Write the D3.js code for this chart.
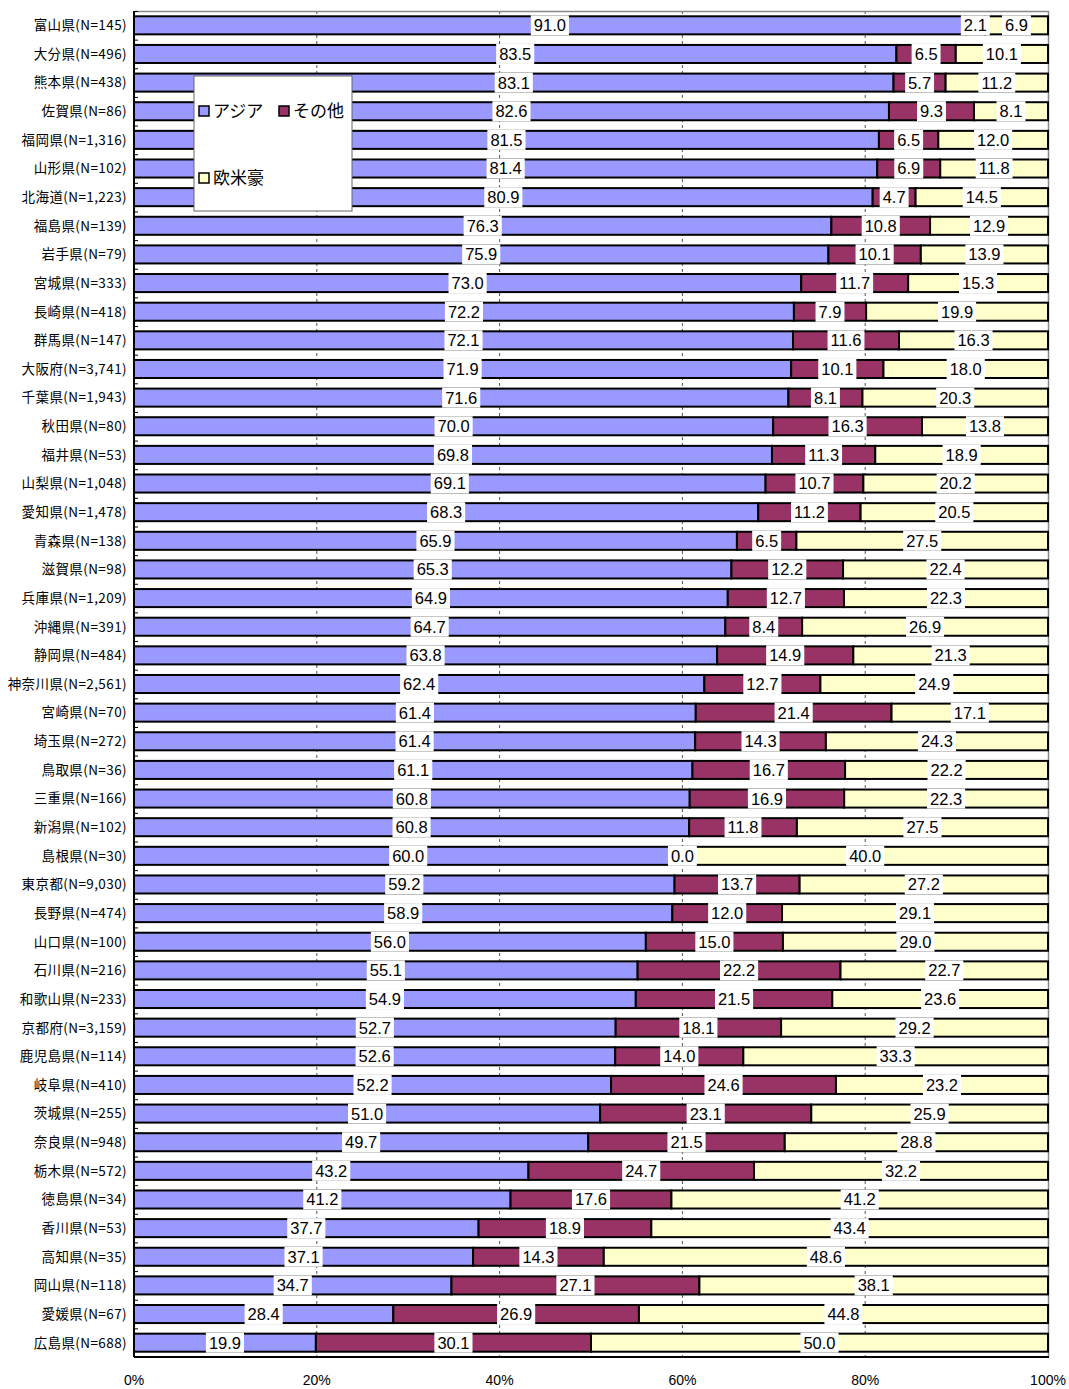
<!DOCTYPE html>
<html>
<head>
<meta charset="utf-8">
<script src="https://cdn.jsdelivr.net/npm/d3@7"></script>
<style>
  body { margin: 0; background: #fff; }
  svg { display: block; }
</style>
</head>
<body>
<svg id="chart" width="1069" height="1389"></svg>
<script>
// prefecture labels, top to bottom
const prefectures = [
  "富山県(N=145)", "大分県(N=496)", "熊本県(N=438)", "佐賀県(N=86)", "福岡県(N=1,316)",
  "山形県(N=102)", "北海道(N=1,223)", "福島県(N=139)", "岩手県(N=79)", "宮城県(N=333)",
  "長崎県(N=418)", "群馬県(N=147)", "大阪府(N=3,741)", "千葉県(N=1,943)", "秋田県(N=80)",
  "福井県(N=53)", "山梨県(N=1,048)", "愛知県(N=1,478)", "青森県(N=138)", "滋賀県(N=98)",
  "兵庫県(N=1,209)", "沖縄県(N=391)", "静岡県(N=484)", "神奈川県(N=2,561)", "宮崎県(N=70)",
  "埼玉県(N=272)", "鳥取県(N=36)", "三重県(N=166)", "新潟県(N=102)", "島根県(N=30)",
  "東京都(N=9,030)", "長野県(N=474)", "山口県(N=100)", "石川県(N=216)", "和歌山県(N=233)",
  "京都府(N=3,159)", "鹿児島県(N=114)", "岐阜県(N=410)", "茨城県(N=255)", "奈良県(N=948)",
  "栃木県(N=572)", "徳島県(N=34)", "香川県(N=53)", "高知県(N=35)", "岡山県(N=118)",
  "愛媛県(N=67)", "広島県(N=688)"
];

const asia = [
  91.0, 83.5, 83.1, 82.6, 81.5, 81.4, 80.9, 76.3, 75.9, 73.0,
  72.2, 72.1, 71.9, 71.6, 70.0, 69.8, 69.1, 68.3, 65.9, 65.3,
  64.9, 64.7, 63.8, 62.4, 61.4, 61.4, 61.1, 60.8, 60.8, 60.0,
  59.2, 58.9, 56.0, 55.1, 54.9, 52.7, 52.6, 52.2, 51.0, 49.7,
  43.2, 41.2, 37.7, 37.1, 34.7, 28.4, 19.9
];
const other = [
  2.1, 6.5, 5.7, 9.3, 6.5, 6.9, 4.7, 10.8, 10.1, 11.7,
  7.9, 11.6, 10.1, 8.1, 16.3, 11.3, 10.7, 11.2, 6.5, 12.2,
  12.7, 8.4, 14.9, 12.7, 21.4, 14.3, 16.7, 16.9, 11.8, 0.0,
  13.7, 12.0, 15.0, 22.2, 21.5, 18.1, 14.0, 24.6, 23.1, 21.5,
  24.7, 17.6, 18.9, 14.3, 27.1, 26.9, 30.1
];
const western = [
  6.9, 10.1, 11.2, 8.1, 12.0, 11.8, 14.5, 12.9, 13.9, 15.3,
  19.9, 16.3, 18.0, 20.3, 13.8, 18.9, 20.2, 20.5, 27.5, 22.4,
  22.3, 26.9, 21.3, 24.9, 17.1, 24.3, 22.2, 22.3, 27.5, 40.0,
  27.2, 29.1, 29.0, 22.7, 23.6, 29.2, 33.3, 23.2, 25.9, 28.8,
  32.2, 41.2, 43.4, 48.6, 38.1, 44.8, 50.0
];

const seriesNames = ["アジア", "その他", "欧米豪"];
const seriesColors = ["#9999ff", "#993366", "#ffffcc"];
const xTicks = [0, 0.2, 0.4, 0.6, 0.8, 1];

const margin = { left: 134, right: 21, top: 11, bottom: 32 };
const width = 1069, height = 1389;

const svg = d3.select("#chart");

const x = d3.scaleLinear().domain([0, 1]).range([margin.left, width - margin.right]);
const y = d3.scaleBand()
  .domain(prefectures)
  .range([margin.top, height - margin.bottom])
  .paddingInner(0.37)
  .paddingOuter(0.185);

const rows = prefectures.map((name, i) => ({ name, values: [asia[i], other[i], western[i]] }));
const table = rows.map((r) => {
  const total = d3.sum(r.values);
  const o = { name: r.name };
  seriesNames.forEach((s, j) => (o[s] = r.values[j] / total));
  o.raw = r.values;
  return o;
});
const stacked = d3.stack().keys(seriesNames)(table);

// gridlines
svg.append("g")
  .selectAll("line")
  .data(xTicks.slice(1, -1))
  .join("line")
  .attr("x1", (d) => x(d)).attr("x2", (d) => x(d))
  .attr("y1", margin.top).attr("y2", height - margin.bottom)
  .attr("stroke", "#555")
  .attr("stroke-dasharray", "3,3")
  .attr("stroke-width", 1);

// frame: top and right grey
svg.append("path")
  .attr("d", `M${x(0)},${margin.top + 0.5}H${x(1) + 0.5}V${height - margin.bottom}`)
  .attr("fill", "none")
  .attr("stroke", "#888")
  .attr("stroke-width", 1.5);

// bars
const layers = svg.append("g")
  .selectAll("g")
  .data(stacked)
  .join("g")
  .attr("fill", (d, i) => seriesColors[i]);

layers.selectAll("rect")
  .data((d) => d)
  .join("rect")
  .attr("x", (d) => x(d[0]))
  .attr("y", (d) => y(d.data.name))
  .attr("width", (d) => x(d[1]) - x(d[0]))
  .attr("height", y.bandwidth())
  .attr("stroke", "#000")
  .attr("stroke-width", 2);

// value labels
const labels = [];
stacked.forEach((layer, j) => {
  layer.forEach((d) => {
    labels.push({
      cx: x((d[0] + d[1]) / 2),
      cy: y(d.data.name) + y.bandwidth() / 2,
      text: d.data.raw[j].toFixed(1)
    });
  });
});

const labelG = svg.append("g")
  .selectAll("g")
  .data(labels)
  .join("g")
  .attr("transform", (d) => `translate(${d.cx},${d.cy})`);

labelG.append("rect").attr("fill", "#fff");
labelG.append("text")
  .attr("text-anchor", "middle")
  .attr("dy", "0.36em")
  .attr("font-family", "'Liberation Sans', Arial, sans-serif")
  .attr("font-size", 16.5)
  .attr("fill", "#000")
  .text((d) => d.text);

labelG.each(function () {
  const g = d3.select(this);
  const w = g.select("text").node().getComputedTextLength();
  g.select("rect")
    .attr("x", -w / 2 - 3)
    .attr("y", -10)
    .attr("width", w + 6)
    .attr("height", 20);
});

// left axis with inward ticks at row boundaries
const axisG = svg.append("g");
axisG.append("line")
  .attr("x1", x(0)).attr("x2", x(0))
  .attr("y1", margin.top).attr("y2", height - margin.bottom)
  .attr("stroke", "#000").attr("stroke-width", 2);
axisG.append("line")
  .attr("x1", x(0)).attr("x2", x(1) + 1)
  .attr("y1", height - margin.bottom).attr("y2", height - margin.bottom)
  .attr("stroke", "#000").attr("stroke-width", 2);
const step = y.step();
axisG.selectAll(".tick")
  .data(d3.range(prefectures.length + 1))
  .join("line")
  .attr("class", "tick")
  .attr("x1", x(0)).attr("x2", x(0) + 4)
  .attr("y1", (i) => margin.top + i * step + 0.5)
  .attr("y2", (i) => margin.top + i * step + 0.5)
  .attr("stroke", "#000").attr("stroke-width", 1);

// category labels
svg.append("g")
  .selectAll("text")
  .data(prefectures)
  .join("text")
  .attr("x", x(0) - 7)
  .attr("y", (d) => y(d) + y.bandwidth() / 2)
  .attr("dy", "0.36em")
  .attr("text-anchor", "end")
  .attr("font-family", "'Noto Sans CJK JP', sans-serif")
  .attr("font-size", 13.5)
  .attr("letter-spacing", 0.4)
  .attr("fill", "#000")
  .text((d) => d);

// x tick labels
svg.append("g")
  .selectAll("text")
  .data(xTicks)
  .join("text")
  .attr("x", (d) => x(d))
  .attr("y", 1385)
  .attr("text-anchor", "middle")
  .attr("font-family", "'Liberation Sans', Arial, sans-serif")
  .attr("font-size", 14)
  .attr("fill", "#000")
  .text((d) => d3.format(".0%")(d));

// legend
const legend = svg.append("g").attr("transform", "translate(194,76)");
legend.append("rect")
  .attr("width", 158).attr("height", 135)
  .attr("fill", "#fff").attr("stroke", "#666").attr("stroke-width", 1);
const legendPos = [[5, 35], [85, 35], [5, 102]];
const items = legend.selectAll(".item")
  .data(seriesNames)
  .join("g")
  .attr("class", "item")
  .attr("transform", (d, i) => `translate(${legendPos[i][0]},${legendPos[i][1]})`);
items.append("rect")
  .attr("x", 0).attr("y", -5)
  .attr("width", 10).attr("height", 10)
  .attr("fill", (d, i) => seriesColors[i])
  .attr("stroke", "#000").attr("stroke-width", 1.5);
items.append("text")
  .attr("x", 14)
  .attr("dy", "0.38em")
  .attr("font-family", "'Noto Sans CJK JP', sans-serif")
  .attr("font-size", 17)
  .attr("fill", "#000")
  .text((d) => d);
</script>
</body>
</html>
